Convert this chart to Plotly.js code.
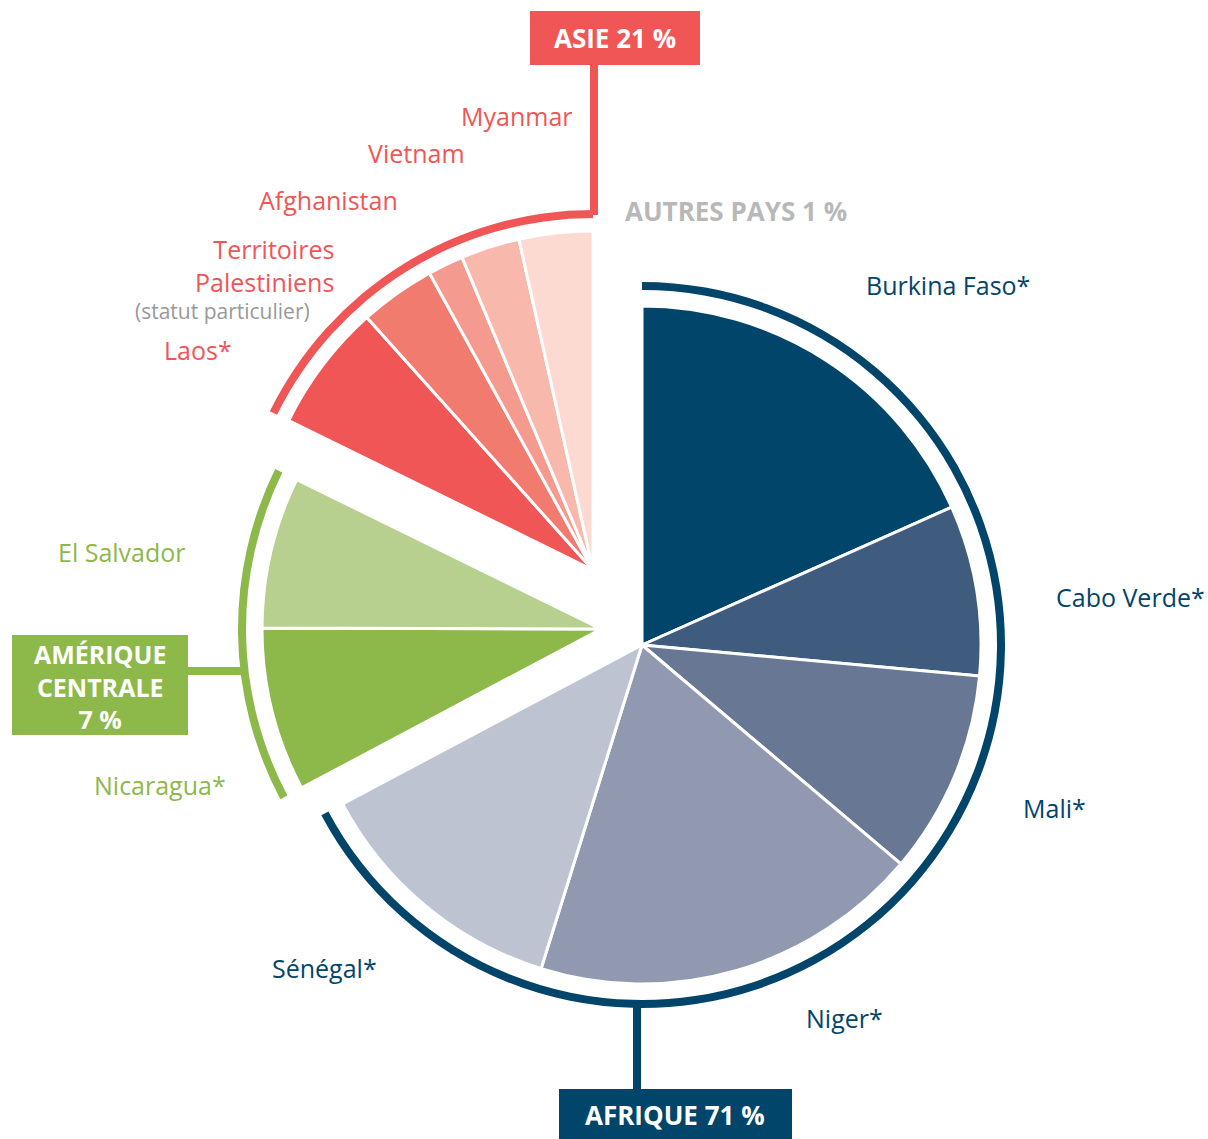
<!DOCTYPE html>
<html>
<head>
<meta charset="utf-8">
<script src="https://cdn.plot.ly/plotly-3.0.1.min.js"></script>
<style>
  html, body { margin: 0; padding: 0; background: #fff; }
  #chart { width: 1208px; height: 1139px; }
</style>
</head>
<body>
<div id="chart"></div>
<script>
// slice values (share of the full circle)
var africaNames = ['Burkina Faso*', 'Cabo Verde*', 'Mali*', 'Niger*', 'Sénégal*'];
var africaValues = [18.3, 8.1, 9.7, 18.6, 12.4];
var africaColors = ['#02456b', '#3f5c7e', '#687894', '#9099b0', '#bec3d2'];

var amcNames = ['Nicaragua*', 'El Salvador'];
var amcValues = [7.8, 7.2];
var amcColors = ['#8db84a', '#b7d08f'];

var asiaNames = ['Laos*', 'Territoires<br>Palestiniens', 'Afghanistan', 'Vietnam', 'Myanmar'];
var asiaValues = [6.1, 3.6, 1.7, 2.8, 3.5];
var asiaColors = ['#f05656', '#f27b70', '#f59a8e', '#f8b8ac', '#fcd9d1'];

var groupLabels = ['AFRIQUE 71 %', 'AMÉRIQUE<br>CENTRALE<br>7 %', 'ASIE 21 %', 'AUTRES PAYS 1 %'];

var W = 1208, H = 1139;
var R = 339;        // pie radius, px
var RING = 363;     // outer radius of the group arcs
var RING_W = 8;

function px(x) { return x / W; }
function py(y) { return 1 - y / H; }
function dom(cx, cy, r) {
  return { x: [(cx - r) / W, (cx + r) / W], y: [(H - cy - r) / H, (H - cy + r) / H] };
}
function sum(a) { return a.reduce(function (s, v) { return s + v; }, 0); }

var total = sum(africaValues) + sum(amcValues) + sum(asiaValues);

// each group is its own pie, shifted, with a see-through slice for the rest
function groupPie(names, values, colors, before, cx, cy) {
  var widths = values.map(function () { return 3; });
  return {
    type: 'pie',
    labels: names.concat(['rest ' + names[0]]),
    values: values.concat([total - sum(values)]),
    marker: {
      colors: colors.concat(['rgba(0,0,0,0)']),
      line: { color: '#ffffff', width: widths.concat([0]) }
    },
    sort: false,
    direction: 'clockwise',
    rotation: 360 * before / total,
    domain: dom(cx, cy, R),
    textinfo: 'none',
    hoverinfo: 'skip',
    showlegend: false
  };
}

function groupRing(values, color, before, cx, cy, r) {
  var s = sum(values);
  return {
    type: 'pie',
    labels: ['arc', 'gap'],
    values: [s, total - s],
    marker: { colors: [color, 'rgba(0,0,0,0)'], line: { width: 0 } },
    hole: (r - RING_W) / r,
    sort: false,
    direction: 'clockwise',
    rotation: 360 * before / total,
    domain: dom(cx, cy, r),
    textinfo: 'none',
    hoverinfo: 'skip',
    showlegend: false
  };
}

var africaStart = 0;
var amcStart = sum(africaValues);
var asiaStart = amcStart + sum(amcValues);

var traces = [
  groupRing(africaValues, '#02456b', africaStart, 642, 645, RING),
  groupRing(amcValues, '#8db84a', amcStart, 601, 629, RING),
  groupRing(asiaValues, '#f05656', asiaStart, 593, 570, 360),
  groupPie(africaNames, africaValues, africaColors, africaStart, 642, 645),
  groupPie(amcNames, amcValues, amcColors, amcStart, 601, 629),
  groupPie(asiaNames, asiaValues, asiaColors, asiaStart, 593, 570)
];

var FONT = '"Open Sans", Lato, sans-serif';

function label(text, x, y, color, size, anchor) {
  return {
    text: text, x: px(x), y: py(y), xref: 'paper', yref: 'paper',
    xanchor: anchor || 'center', yanchor: 'middle', align: anchor || 'center',
    showarrow: false, font: { family: FONT, size: size || 25, color: color }
  };
}
function boxText(text, x, y, size) {
  return {
    text: text, x: px(x), y: py(y), xref: 'paper', yref: 'paper',
    xanchor: 'center', yanchor: 'middle', align: 'center', showarrow: false,
    font: { family: FONT, size: size || 26, color: '#ffffff', weight: 700 }
  };
}
function rect(x0, y0, x1, y1, color) {
  return { type: 'rect', xref: 'paper', yref: 'paper', x0: px(x0), x1: px(x1), y0: py(y0), y1: py(y1),
           fillcolor: color, line: { width: 0 } };
}
function seg(x0, y0, x1, y1, color) {
  return { type: 'line', xref: 'paper', yref: 'paper', x0: px(x0), x1: px(x1), y0: py(y0), y1: py(y1),
           line: { color: color, width: 8 } };
}

var navy = '#02456b', green = '#8db84a', red = '#f05656', grey = '#999999';

var annotations = [
  label(africaNames[0], 948, 285, navy),
  label(africaNames[1], 1130, 597, navy),
  label(africaNames[2], 1054, 808, navy),
  label(africaNames[3], 844, 1018, navy),
  label(africaNames[4], 324, 968, navy),
  label(amcNames[0], 160, 785, green),
  label(amcNames[1], 122, 552, green),
  label(asiaNames[0], 198, 350, red),
  label(asiaNames[1], 336, 266, red, 25, 'right'),
  label('(statut particulier)', 222, 311, grey, 21),
  label(asiaNames[2], 329, 200, red),
  label(asiaNames[3], 416, 153, red),
  label(asiaNames[4], 517, 116, red),
  {
    text: groupLabels[3], x: px(736), y: py(211), xref: 'paper', yref: 'paper',
    xanchor: 'center', yanchor: 'middle', showarrow: false,
    font: { family: FONT, size: 26, color: '#b8b8b8', weight: 700 }
  },
  boxText(groupLabels[0], 675, 1115),
  boxText(groupLabels[1], 100, 686, 25),
  boxText(groupLabels[2], 615, 38)
];

var shapes = [
  seg(594, 64, 594, 215, red),
  seg(637, 1000, 637, 1090, navy),
  seg(188, 671, 246, 671, green),
  rect(530, 11, 700, 65, red),
  rect(559, 1089, 792, 1139, navy),
  rect(12, 635, 188, 735, green)
];

var layout = {
  width: W,
  height: H,
  margin: { l: 0, r: 0, t: 0, b: 0 },
  paper_bgcolor: '#ffffff',
  showlegend: false,
  annotations: annotations,
  shapes: shapes
};

Plotly.newPlot('chart', traces, layout, { displayModeBar: false, staticPlot: true });
</script>
</body>
</html>
